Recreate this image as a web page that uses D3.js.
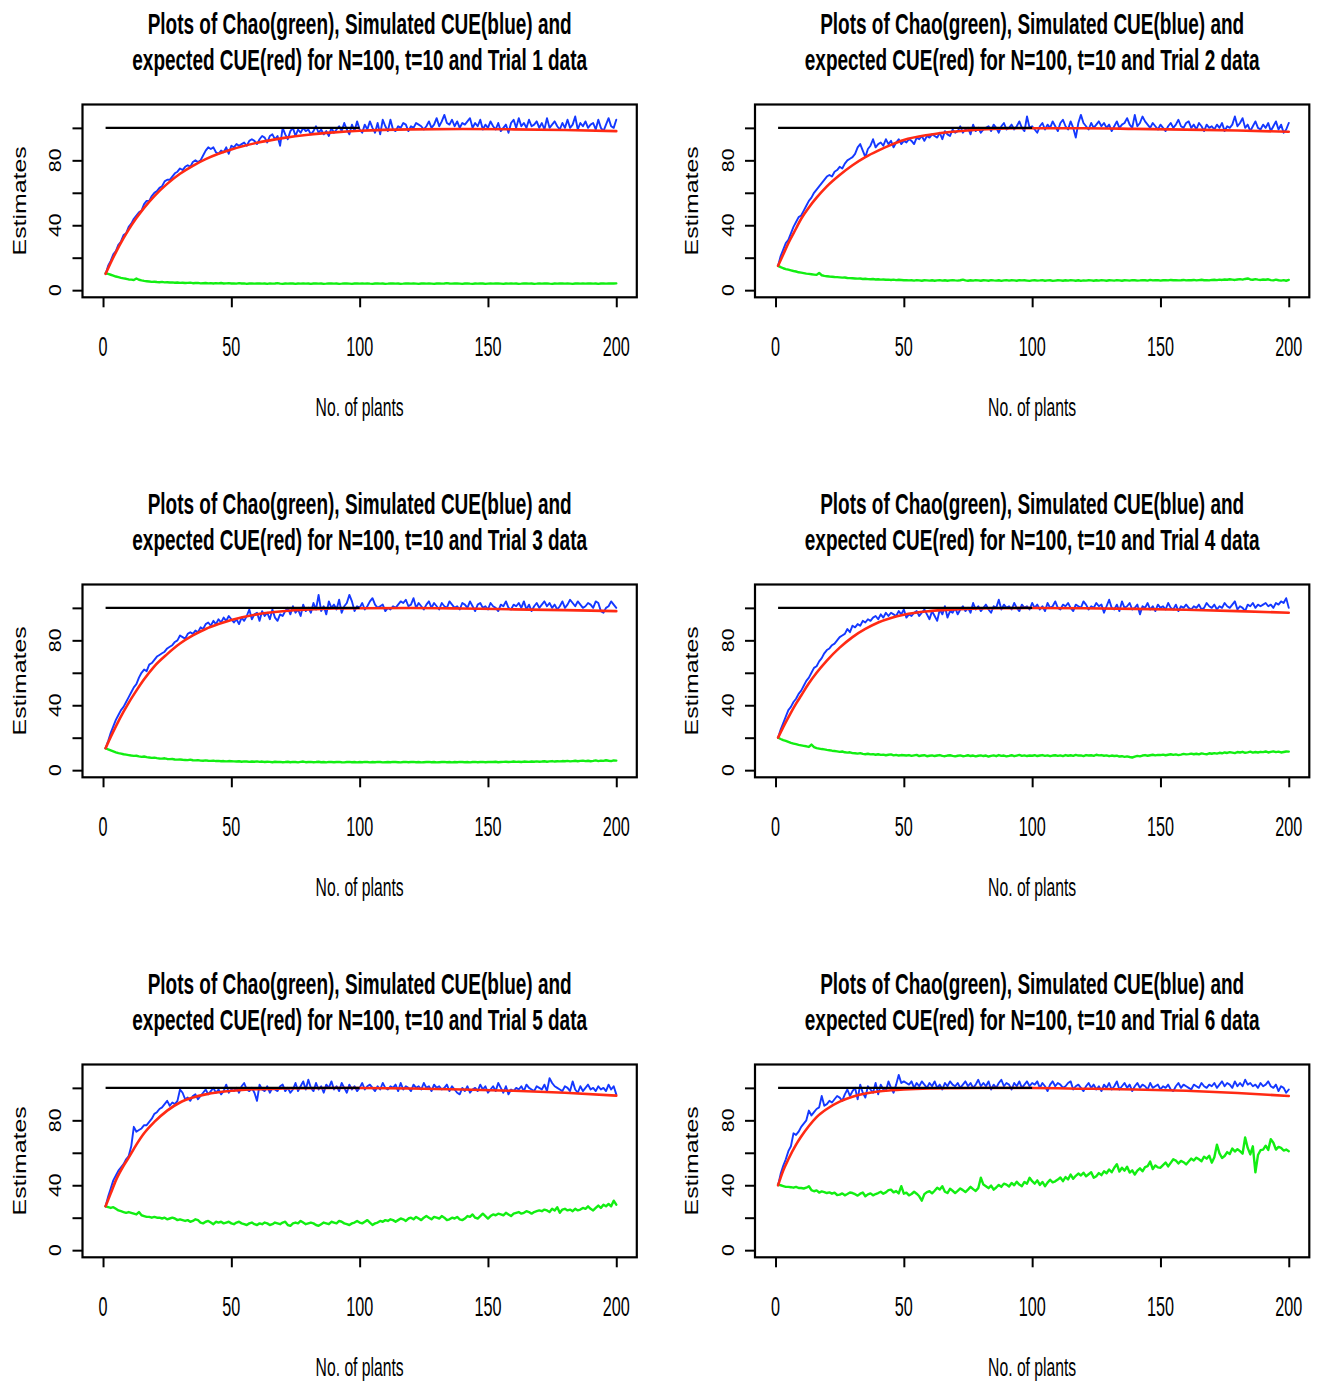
<!DOCTYPE html>
<html>
<head>
    <style>
        body {
            margin: 0;
            background-color: #fff;
        }
        svg {
            display: block;
        }
        text {
            font-family: "Liberation Sans", Arial, sans-serif;
            fill: #000;
        }
        .series {
            fill: none;
            stroke-linejoin: round;
            stroke-linecap: round;
        }
        .tick line {
            stroke: #000;
            stroke-width: 2px;
        }
    </style>
</head>
<body>
    <div id="chart"></div>

    <script src="https://d3js.org/d3.v7.min.js"></script>
    <script>
        // x positions of the simulated series (one value per number of plants)
        var plantCounts = d3.range(1, 201);
        var xTickValues = [0, 50, 100, 150, 200];
        var yTickValues = [0, 20, 40, 60, 80, 100];
        var yTickLabels = [0, 40, 80];
        var trueN = 100;
        var trueLineX = [1, 100];
        var titleLine1 = "Plots of Chao(green), Simulated CUE(blue) and";
        var xLabel = "No. of plants";
        var yLabel = "Estimates";

        // expected CUE read at these x
        var redX = [1, 3, 5, 8, 10, 13, 16, 20, 25, 30, 35, 40, 45, 50, 60, 70, 80, 90, 100, 120, 140, 160, 180, 200];

        var red1 = [10, 16.9, 23.3, 32, 37.3, 44.4, 50.7, 58, 65.5, 71.7, 76.6, 80.7, 84, 86.7, 90.8, 93.7, 95.8, 97.2, 98.2, 99.1, 99.3, 99.1, 98.7, 98];
        var red2 = [15, 22, 29, 38, 44, 51, 57, 64, 71, 77, 82, 86, 89.5, 92.5, 95.8, 97.8, 99, 99.6, 99.8, 99.8, 99.4, 98.9, 98.4, 97.6];
        var red3 = [13.5, 20.5, 27, 36, 41.5, 49, 56, 64, 71.5, 78, 83, 87, 90, 92.5, 96, 97.9, 99, 99.6, 99.8, 99.9, 99.6, 99.1, 98.6, 98];
        var red4 = [20, 26.5, 32.5, 41, 46, 53.5, 60, 67.5, 75.5, 82, 87, 91, 93.8, 95.8, 98, 99.1, 99.6, 99.8, 99.9, 99.8, 99.4, 98.8, 98, 97];
        var red5 = [27, 35, 43, 52, 57, 65, 72, 79, 86, 91, 94, 96, 97.3, 98.2, 99.2, 99.6, 99.8, 99.9, 99.9, 99.6, 99, 98.2, 97, 95.2];
        var red6 = [40, 49, 56, 65, 70, 76.5, 82, 87, 91.5, 94.5, 96.5, 97.8, 98.5, 99, 99.6, 99.8, 99.9, 99.9, 99.9, 99.5, 99, 98.2, 96.8, 95];

        var blue1 = [
            10,15,18,22,24,28,30,34,35,39, 41,44,46,48,49,53,55,55,58,60,
            61,63,64,67,68,68,70,72,73,75, 74,76,77,76,79,80,79,80,83,86,
            88,87,88,85,84,86,85,88,84,89, 88,90,89,90,91,89,92,93,92,90,
            93,95,94,91,95,96,93,95,89,100, 96,93,98,100,95,99,97,100,98,99,
            96,98,101,97,99,96,98,95,100,97, 99,101,98,103,99,96,102,98,104,99,
            97,102,99,104,100,97,103,96,105,101, 98,105,99,98,101,100,103,102,98,101,
            100,103,102,101,99,101,104,100,102,106, 101,104,108,103,102,105,101,104,100,103,
            102,104,106,100,103,101,105,99,102,100, 104,101,99,103,98,100,102,97,103,105,
            100,106,101,103,100,105,101,102,104,100, 103,99,106,100,102,104,101,99,103,100,
            105,100,102,107,99,103,101,104,100,102, 103,99,105,100,98,102,106,101,100,105
        ];
        var green1 = [
            10.5,10,9.5,9,8.4,8,7.6,7.3,7,6.6, 6.5,6.3,7.2,6.4,6,5.7,5.5,5.3,5.1,5.2,
            5,4.9,5.1,4.8,4.9,4.7,4.8,4.6,4.7,4.5, 4.6,4.4,4.5,4.6,4.3,4.4,4.5,4.2,4.3,4.4,
            4.2,4.3,4.1,4.3,4.2,4.4,4.1,4.2,4.3,4.1, 4.2,4,4.3,4.1,4.2,3.9,4.1,4.2,4,4.1,
            4.2,4,4.1,3.9,4.2,4,4.1,4.3,4,3.9, 4.1,4,4.2,4.1,3.9,4.1,4,4.2,4,4.1,
            3.9,4.1,4.2,4,4.1,3.9,4,4.2,4.1,4, 4.1,3.9,4,4.2,4.1,4,3.9,4.1,4.2,4,
            4.1,4,4.2,4,3.9,4.1,4.2,4,4.1,3.9, 4,4.2,4.1,4,4.1,3.9,4,4.2,4.1,4,
            4.1,4,3.9,4.1,4.2,4,4.1,4,3.9,4.1, 4.2,4,4.1,4.3,4.1,4,4.2,4.1,4,3.9,
            4.1,4.2,4,3.9,4.1,4,4.2,4.1,3.9,4, 4.1,4,4.2,4.1,4,3.9,4.1,4,4.2,4,
            4.1,3.9,4,4.2,4.1,4,4.1,3.9,4,4.2, 4,4.1,4.2,4,3.9,4.1,4,4.2,4.1,4,
            4.1,4,3.9,4.1,4.2,4,4.1,4,4.2,4.1, 4,4.1,3.9,4.1,4.2,4,4.1,4.2,4.1,4.2
        ];

        var blue2 = [
            15,21,25,29,31,35,39,42,45,46, 49,52,55,57,60,62,64,66,68,70,
            71,70,73,74,76,75,78,80,81,82, 84,88,90,86,82,87,89,93,88,90,
            91,89,93,90,92,88,91,93,90,92, 91,93,92,90,94,93,95,92,95,94,
            96,95,94,97,93,98,96,95,99,97, 98,101,97,99,100,96,102,98,100,97,
            99,100,101,98,102,100,97,101,103,99, 100,102,99,101,104,100,98,107,100,101,
            99,97,101,103,99,102,100,104,101,98, 103,105,101,99,104,100,94,103,108,103,
            101,99,103,100,102,104,101,103,100,102, 98,101,104,100,102,103,106,102,100,108,
            101,103,107,104,102,100,103,101,99,102, 100,98,101,103,100,102,105,101,100,103,
            104,100,102,99,103,101,98,102,100,101, 99,102,100,103,98,101,100,102,107,101,
            103,106,100,102,98,101,104,100,99,102, 100,103,98,101,104,99,102,97,99,103
        ];
        var green2 = [
            15,14.2,13.5,13,12.6,12.2,11.8,11.5,11,10.8, 10.5,10.2,10,9.8,9.6,9.4,10.6,9.2,8.8,8.6,
            8.4,8.3,8.1,8,7.9,7.7,7.8,7.5,7.4,7.3, 7.2,7.1,7.2,6.9,7,6.8,6.7,6.9,6.6,6.7,
            6.5,6.6,6.4,6.5,6.3,6.5,6.2,6.4,6.3,6.1, 6.2,6,6.1,5.9,6.2,6,5.8,6.1,6,5.9,
            6.1,5.8,6,6.2,5.9,6.1,5.8,6,6.2,6, 5.9,6.1,6.5,6,5.8,6.1,5.9,6.2,6,5.8,
            6.1,6,5.8,6.2,6,5.9,6.1,5.7,6,6.2, 5.9,6.1,6,5.8,6.2,6,6.1,5.9,5.7,6,
            6.1,5.9,6,6.2,5.8,6,6.1,5.7,5.9,6.1, 6,5.8,6.1,5.9,6.2,6,5.8,6.1,5.7,6,
            5.9,6.1,6,5.8,6.1,5.9,6.2,6,5.8,6.1, 6,5.9,6.2,6,5.8,6.1,6,5.9,6.2,6.1,
            5.9,6,6.2,6.1,5.9,6.3,6,6.1,6.2,5.9, 6.1,6.2,6,6.3,6.1,6.2,6,6.1,6.3,6,
            6.2,6.1,6.3,6,6.2,6.4,6.1,6.2,6,6.3, 6.4,6.2,6.5,6.3,6.6,6.4,6.7,6.5,6.3,6.6,
            6.8,6.5,6.9,7.2,6.6,6.4,6.8,6.5,6.3,6.6, 6.4,6.7,6.2,6,6.5,6.1,5.9,6.2,5.8,6.3
        ];

        var blue3 = [
            13.5,18,23,27,31,34,37,39,42,45, 48,51,53,57,60,62,61,65,66,68,
            70,71,72,73,75,76,77,79,80,83, 82,81,84,85,84,86,85,88,87,90,
            91,89,92,90,93,91,94,92,95,93, 91,93,90,94,92,95,99,93,96,97,
            92,98,95,97,93,99,94,92,96,95, 98,100,96,101,97,99,95,102,98,100,
            97,103,99,108,98,101,96,104,100,102, 99,105,97,101,103,108,104,98,101,100,
            103,99,101,104,106,102,100,101,102,98, 100,99,101,100,102,104,103,105,101,102,
            106,100,103,101,99,102,104,100,103,101, 99,103,101,100,104,102,100,101,99,103,
            102,100,104,101,98,102,103,100,101,99, 103,101,100,98,102,101,104,100,99,102,
            101,103,100,104,99,102,98,101,103,100, 102,104,101,103,100,102,99,101,104,100,
            102,105,103,101,104,102,100,101,103,102, 100,104,103,98,97,100,101,104,102,100
        ];
        var green3 = [
            13.5,12.8,12.2,11.6,11,10.5,10.2,9.8,9.6,9.3, 9,8.8,8.9,8.5,8.2,8.4,8,7.8,7.6,7.7,
            7.4,7.2,7.1,7.3,6.9,6.8,6.9,6.6,6.5,6.6, 6.4,6.3,6.2,6.5,6.1,6,6.2,5.9,5.8,6,
            5.8,5.7,5.9,5.6,5.7,5.5,5.6,5.4,5.6,5.5, 5.4,5.3,5.5,5.2,5.4,5.3,5.1,5.3,5.2,5.4,
            5.1,5.3,5,5.2,5.1,4.9,5.2,5,5.1,4.9, 5,5.2,4.9,5.1,5,4.8,5.1,5.3,4.9,5,
            5.1,4.9,5,5.2,4.9,5,4.8,5.1,5,4.9, 5,5.1,4.9,4.8,5,5.1,4.9,5,4.8,5,
            4.9,5.1,5,4.8,5,4.9,5.1,5,4.8,4.9, 5,4.9,5.1,5,4.9,4.8,5,5.1,4.9,5,
            5.1,4.9,5,4.8,4.9,5,5.1,4.9,5,4.8, 4.9,5,5.1,4.9,5,4.8,5,4.9,5.1,5,
            4.9,5,4.8,5,5.1,4.9,5,5.1,4.9,5, 5.1,5,5.2,4.9,5,5.1,5.2,5,5.1,5.3,
            5.1,5.2,5,5.3,5.2,5.1,5.3,5.2,5.4,5.2, 5.3,5.5,5.2,5.4,5.6,5.3,5.5,5.4,5.6,5.5,
            5.7,5.4,5.6,5.8,5.5,5.7,5.9,5.6,5.8,5.5, 5.7,6,5.6,5.9,5.7,6.1,5.8,5.6,6,5.9
        ];

        var blue4 = [
            20,25,29,33,37,39,42,44,47,49, 52,55,57,60,63,64,67,69,72,74,
            75,77,78,80,82,83,84,87,85,89, 88,90,89,92,91,93,92,94,95,93,
            96,94,97,95,97,96,95,98,96,99, 94,96,95,97,98,95,97,99,96,93,
            98,95,92,99,96,101,94,98,97,100, 96,99,101,98,100,97,103,99,101,98,
            100,102,99,97,101,100,105,99,102,100, 101,99,103,100,98,102,100,101,99,103,
            100,102,99,101,98,103,100,101,104,100, 99,102,101,103,100,98,102,101,100,104,
            102,99,101,100,103,101,102,97,101,105, 100,99,102,98,104,100,101,103,99,100,
            102,96,101,100,103,99,101,98,102,100, 101,99,103,100,99,102,98,101,100,102,
            100,99,101,100,102,99,100,103,101,100, 102,99,101,100,103,101,100,102,104,99,
            101,100,98,102,101,103,100,102,101,102, 103,101,102,100,103,102,104,103,106,100
        ];
        var green4 = [
            20,19.2,18.5,18,17.4,16.8,16.4,16,15.6,15.3, 15,14.7,14.3,15.8,14.2,13.6,13.3,13,12.8,12.5,
            12.3,12,11.8,11.6,11.3,11.5,11,10.8,11,10.5, 10.4,10.2,10.5,10,9.8,10.1,9.7,9.9,9.5,9.8,
            9.4,9.6,9.2,9.5,9.7,9.1,9.4,9,9.3,9.2, 9,9.3,8.8,9.1,9.4,8.7,9,9.2,8.6,8.9,
            9.1,8.7,9,9.3,8.8,8.6,9,9.2,8.8,8.5, 8.9,9.1,8.6,8.8,9.2,8.7,9,8.5,8.9,9.1,
            8.7,9,8.4,8.8,9.1,8.6,9.3,8.8,9,8.5, 8.8,9.2,8.6,9,9.4,8.8,9.1,8.7,9,8.9,
            9.2,8.7,9,9.3,8.8,9.1,8.6,9,9.2,8.8, 9.1,8.7,9.3,8.9,9.2,8.8,9.4,9,9.1,8.7,
            9.3,9,9.2,8.8,9.5,9.1,9.3,8.9,9.1,8.6, 9,8.7,8.9,8.4,8.6,8.2,8.5,8.1,7.8,8.3,
            8.8,8.5,9,9.3,8.9,9.2,9.5,9.1,9.4,9.3, 9.6,9.2,9.5,9.8,9.4,9.7,9.3,9.6,10,9.7,
            9.9,10.2,9.8,10.1,9.7,10.3,10,9.8,10.4,10.1, 10.5,10.2,10.7,10.4,10.9,10.6,11.1,10.8,10.5,11.2,
            10.9,11.3,10.7,11,11.4,10.8,11.2,10.9,11.3,11.1, 11.5,10.9,11.3,11.6,11.1,11.4,10.9,11.2,11.5,11.4
        ];

        var blue5 = [
            27,33,38,43,46,49,51,53,56,58, 64,76,73,74,75,77,77,79,81,84,
            85,87,88,90,92,89,91,90,92,99, 97,93,94,92,95,96,93,95,97,99,
            96,98,100,97,99,96,98,102,97,99, 98,100,97,101,103,99,98,100,97,92,
            102,99,98,101,97,100,99,98,101,102, 98,100,97,99,103,98,101,104,99,105,
            100,98,103,99,101,97,102,100,104,99, 101,98,103,100,97,102,99,101,98,100,
            103,99,101,102,100,98,101,99,103,100, 99,101,100,102,98,103,99,101,100,98,
            102,100,101,99,103,100,101,98,102,100, 101,99,100,102,98,101,99,97,96,100,
            98,101,97,99,100,98,102,99,101,97, 99,101,98,103,100,97,101,96,99,98,
            100,99,101,98,102,100,99,98,101,100, 99,102,98,106,103,101,100,99,98,101,
            100,98,104,99,97,101,98,100,102,99, 100,98,101,99,100,98,102,99,101,96
        ];
        var green5 = [
            27,26.5,26,26.5,25.5,24.5,24,23.5,23,23.5, 23,22.5,22,23.5,21.5,21,20.5,20.5,20,20.5,
            20,20,19.5,20,19,19.5,20,19.5,18.5,19, 18.5,18,18.5,17.5,18,19,18.5,17,16.5,17.5,
            18,17,16,17.5,17,17.5,16.5,17,17.5,16.5, 16,17,17.5,16.5,16,15.5,16.5,17,16,15.5,
            16.5,16,17,16.5,15.5,16,17,16.5,16,17, 17.5,15.5,15,16.5,17,16.5,18,17,16,16.5,
            17,16.5,15.5,15,16,17,16.5,16,17.5,17, 16.5,18,17.5,16.5,16,15.5,16.5,17,18,17,
            16.5,17.5,18.5,17,15.5,16.5,17,18,17.5,18.5, 18,19,18.5,17.5,18.5,19.5,19,18,19.5,20,
            19,20.5,19.5,18.5,20,21,20,19,20.5,20, 19.5,21,20,18.5,19,20,19.5,20.5,19,18.5,
            19.5,21,20.5,22,20,19.5,21,22.5,21,19.5, 21,22,21.5,22.5,22,21.5,23,22,21,22.5,
            23,23.5,22.5,23,24,23.5,22.5,23.5,24,24.5, 24,25,24.5,23.5,25.5,24.5,26.5,23,25,25.5,
            24.5,25,24,25.5,24.5,25,26,25.5,27,25.5, 24.5,26,27.5,26,28,27,28.5,27,30.5,28
        ];

        var blue6 = [
            40,47,52,56,61,64,72,71,73,76, 78,80,86,83,85,87,88,95,89,90,
            92,91,93,95,94,92,96,99,95,98, 100,93,102,97,94,101,99,97,103,96,
            102,99,98,104,100,97,102,108,103,104, 103,102,104,100,103,101,104,102,100,103,
            101,104,100,102,99,103,101,104,102,101, 103,100,102,104,101,103,100,102,105,101,
            103,101,104,99,102,100,103,105,101,103, 102,99,103,101,104,100,102,104,101,103,
            102,104,100,103,101,98,102,104,101,103, 102,100,101,103,104,99,101,102,100,98,
            101,103,100,102,99,101,98,102,100,103, 99,101,104,99,101,103,100,102,98,101,
            103,100,102,101,99,103,100,101,102,99, 101,100,102,99,98,101,103,100,102,101,
            100,99,102,101,100,103,101,100,102,101, 103,100,102,104,101,103,102,100,104,101,
            103,101,105,102,103,101,102,100,103,101, 102,104,101,100,102,98,101,100,97,99
        ];
        var green6 = [
            40.4,40,39.5,39,39,38.8,38.5,39,38.3,38.3, 38,38.5,39.4,37,36.3,36.8,35.5,36.2,35.8,35.2,
            35.6,34.8,35.4,34,34.2,35,33.8,34.6,35.5,35.2, 34.5,33.6,34.8,35.5,33.2,34.4,35,33.8,34.6,35.2,
            36,34.8,35.6,37,37.3,35.6,36.4,35,39.4,34.8, 35.4,33.8,34.6,36,34.8,33.2,30.5,34.5,35.8,36.3,
            35,36.6,38.5,37.4,39.4,36,35.2,37.8,36.6,35.2, 36.5,38,37,35.8,37.3,39,37.6,36.5,38.2,44.6,
            40.4,39.4,38.2,39.8,37.3,38.6,40.2,39,41,40.4, 39.2,41.4,40,42.2,40.4,39.4,42,41,44.6,42.5,
            41,43,40.2,42,39.4,41.6,43.4,41.8,42.4,43.5, 44.8,42.5,45,43.6,46.6,44,45.8,47.2,46,47.7,
            45.5,46.8,48,44.6,45.6,47.5,46.2,48.6,47.4,49.7, 48,50.8,53,48.4,50.8,49,51.4,47.8,49.2,46.6,
            49,50.4,48.6,51.2,51.8,54.6,50,52.2,51,50.8, 52.4,54,51.6,53.8,56,55.2,53.4,55,54.2,52.8,
            54.6,56.4,55.2,57,56,54.8,57.6,56.4,58.2,53.9, 57.2,65,59.6,56.8,58,60.4,59.2,62.6,60.8,62.2,
            61,59.4,69.4,63,59,64,48,58.6,61.6,62, 64.4,61.8,68.4,66.2,62,63.6,63,61.4,62,61
        ];

        var panels = [
            {trial: 1, blue: blue1, green: green1, red: red1},
            {trial: 2, blue: blue2, green: green2, red: red2},
            {trial: 3, blue: blue3, green: green3, red: red3},
            {trial: 4, blue: blue4, green: green4, red: red4},
            {trial: 5, blue: blue5, green: green5, red: red5},
            {trial: 6, blue: blue6, green: green6, red: red6}
        ];

        var width = 1317, height = 1383;
        var colStep = 672.5, rowStep = 480;
        var box = {left: 82.5, right: 636.8, top: 104.5, bottom: 297.3};

        var svg = d3.select("#chart").append("svg")
            .attr("width", width)
            .attr("height", height);

        svg.append("rect")
            .attr("width", width)
            .attr("height", height)
            .attr("fill", "#fff");

        // text stretched vertically like the original picture
        function label(g, str, x, y, size, sy, opts) {
            opts = opts || {};
            var t = "translate(" + x + "," + y + ") scale(1," + sy + ")";
            if (opts.rotate) t += " rotate(-90)";
            return g.append("text")
                .attr("transform", t)
                .attr("text-anchor", "middle")
                .style("font-size", size + "px")
                .style("font-weight", opts.bold ? "bold" : "normal")
                .text(str);
        }

        panels.forEach(function(p, i) {
            var g = svg.append("g")
                .attr("transform", "translate(" + (i % 2) * colStep + "," + Math.floor(i / 2) * rowStep + ")");

            var x = d3.scaleLinear().domain([-8, 208]).range([box.left, box.right]);
            var y = d3.scaleLinear().domain([-4.4, 114.4]).range([box.bottom, box.top]);
            var cx = (box.left + box.right) / 2;

            var line = d3.line()
                .x(function(d, j) { return x(plantCounts[j]); })
                .y(function(d) { return y(d); });

            var redLine = d3.line()
                .curve(d3.curveMonotoneX)
                .x(function(d, j) { return x(redX[j]); })
                .y(function(d) { return y(d); });

            g.append("path").datum(p.green)
                .attr("class", "series")
                .attr("d", line)
                .attr("stroke", "#12ee12")
                .attr("stroke-width", 2.4);

            g.append("path").datum(p.blue)
                .attr("class", "series")
                .attr("d", line)
                .attr("stroke", "#1438ff")
                .attr("stroke-width", 1.9);

            g.append("path").datum(p.red)
                .attr("class", "series")
                .attr("d", redLine)
                .attr("stroke", "#ff2a14")
                .attr("stroke-width", 2.6);

            g.append("line")
                .attr("x1", x(trueLineX[0]))
                .attr("x2", x(trueLineX[1]))
                .attr("y1", y(trueN))
                .attr("y2", y(trueN))
                .attr("stroke", "#000")
                .attr("stroke-width", 2.4);

            g.append("rect")
                .attr("x", box.left)
                .attr("y", box.top)
                .attr("width", box.right - box.left)
                .attr("height", box.bottom - box.top)
                .attr("fill", "none")
                .attr("stroke", "#000")
                .attr("stroke-width", 2.2);

            var xAxis = g.append("g")
                .attr("transform", "translate(0," + box.bottom + ")")
                .call(d3.axisBottom(x).tickValues(xTickValues).tickSize(10).tickFormat(""));
            xAxis.select(".domain").remove();

            var yAxis = g.append("g")
                .attr("transform", "translate(" + box.left + ",0)")
                .call(d3.axisLeft(y).tickValues(yTickValues).tickSize(10).tickFormat(""));
            yAxis.select(".domain").remove();

            xTickValues.forEach(function(v) {
                label(g, v, x(v), 356, 16.2, 1.75);
            });
            yTickLabels.forEach(function(v) {
                label(g, v, 61, y(v), 17, 1.25, {rotate: true});
            });

            label(g, xLabel, cx, 415.5, 15.7, 1.7);
            label(g, yLabel, 25.5, (box.top + box.bottom) / 2, 18, 1.38, {rotate: true});

            label(g, titleLine1, cx, 34, 19, 1.6, {bold: true});
            label(g, "expected CUE(red) for N=100, t=10 and Trial " + p.trial + " data", cx, 70, 19, 1.6, {bold: true});
        });
    </script>
</body>
</html>
